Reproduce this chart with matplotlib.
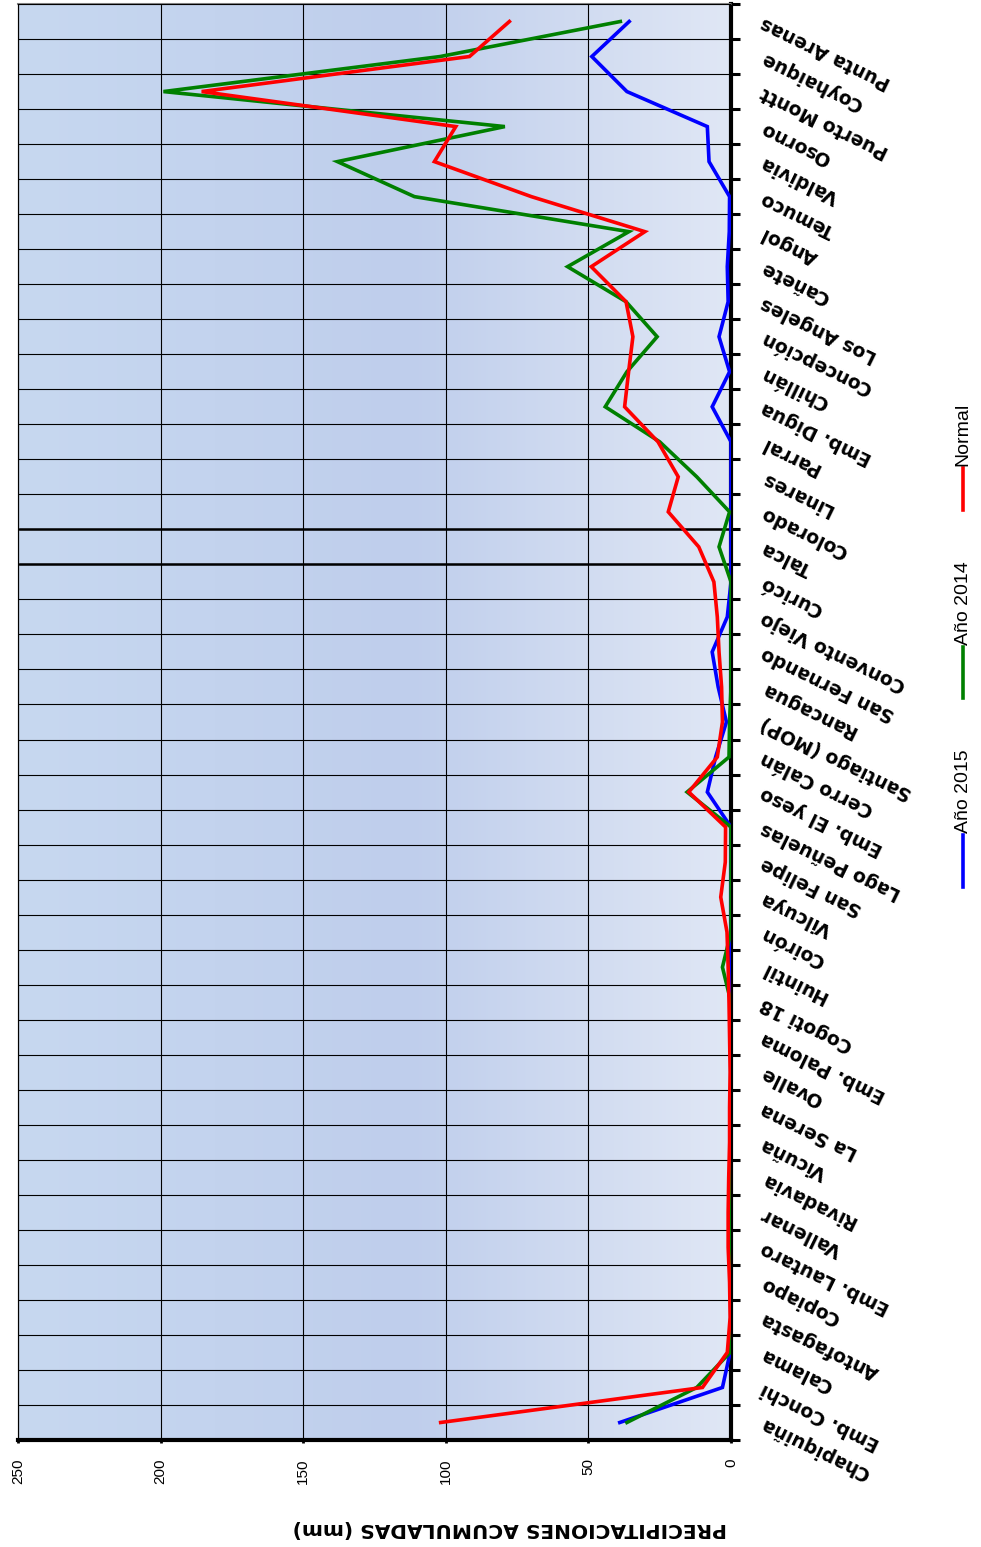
import numpy as np
import matplotlib
matplotlib.use("Agg")
import matplotlib.pyplot as plt
import matplotlib.transforms as mtransforms
from matplotlib.colors import LinearSegmentedColormap
from matplotlib.lines import Line2D

# stations, north to south
estaciones = [
    "Chapiquiña", "Emb. Conchi", "Calama", "Antofagasta", "Copiapo",
    "Emb. Lautaro", "Vallenar", "Rivadavia", "Vicuña", "La Serena",
    "Ovalle", "Emb. Paloma", "Cogoti 18", "Huintil", "Coirón",
    "Vilcuya", "San Felipe", "Lago Peñuelas", "Emb. El yeso", "Cerro Calán",
    "Santiago (MOP)", "Rancagua", "San Fernando", "Convento Viejo", "Curicó",
    "Talca", "Colorado", "Linares", "Parral", "Emb. Digua",
    "Chillán", "Concepción", "Los Angeles", "Cañete", "Angol",
    "Temuco", "Valdivia", "Osorno", "Puerto Montt", "Coyhaique",
    "Punta Arenas",
]

anio_2015 = [39, 3, 0.3, 0, 0, 0, 0, 0, 0, 0,
             0, 0, 0, 0, 0, 0, 0, 0, 8.3, 5.4,
             1.6, 4.5, 6.6, 1.3, 0, 0, 0, 0, 0, 6.6,
             0.5, 4.2, 1.0, 1.3, 0.6, 0.5, 7.7, 8.3, 36.5, 48.8,
             35.7]

anio_2014 = [36.5, 12, 0.3, 0, 0, 0, 0, 0, 0, 0,
             0, 0, 0, 3, 0, 0, 0, 0, 15.4, 0.7,
             0.5, 0, 0, 0, 0, 4.2, 0.5, 12, 25, 44.1,
             36.5, 25.9, 36.8, 57.3, 35.8, 111, 138, 79.3, 199, 102,
             38.8]

normal = [101.8, 10, 1.3, 0.3, 0.5, 1.0, 1.0, 0.8, 0.5, 0.5,
          0.3, 0.5, 0.7, 1.0, 1.4, 3.6, 2.0, 1.9, 14.8, 4.8,
          3.0, 3.3, 4.2, 4.8, 6.0, 11.3, 22, 18.5, 25.6, 37.3,
          35.9, 34.4, 36.8, 49, 30.2, 70, 104, 96.5, 185.6, 91.7,
          77.7]

series = [("Año 2015", anio_2015, "#0000ff"),
          ("Año 2014", anio_2014, "#008000"),
          ("Normal", normal, "#ff0000")]

W, H = 981, 1547
fig = plt.figure(figsize=(W / 100, H / 100), dpi=100)
ax = fig.add_axes([18 / W, 1 - 1440 / H, (731 - 18) / W, (1440 - 4) / H])

n = len(estaciones)
pos = np.arange(n)

# background gradient
cmap = LinearSegmentedColormap.from_list(
    "fondo", [(0, "#c7d8f0"), (0.55, "#bfceec"), (1, "#e0e7f5")])
grad = np.linspace(0, 1, 256).reshape(1, -1)
ax.imshow(grad, extent=(250, 0, -0.5, n - 0.5), aspect="auto", cmap=cmap, zorder=0)

for nombre, vals, color in series:
    ax.plot(vals, pos, color=color, lw=2.6, zorder=3, solid_joinstyle="miter")

ax.set_xlim(250, 0)
ax.set_ylim(-0.5, n - 0.5)

# value axis (bottom)
ax.set_xticks(np.arange(0, 251, 50))
ax.set_xticklabels([str(v) for v in range(0, 251, 50)], rotation=90,
                   family="Liberation Sans", fontsize=11)
ax.tick_params(axis="x", direction="out", length=2, width=2, pad=11)

# category axis (right), labels drawn as rotated text
ax.yaxis.tick_right()
ax.set_yticks(np.arange(-0.5, n, 1.0))
ax.set_yticklabels([])
ax.tick_params(axis="y", which="major", direction="out", length=6.5, width=2.2,
               right=True, left=False)

trans = mtransforms.blended_transform_factory(ax.transAxes, ax.transData)
trans = trans + mtransforms.ScaledTranslation(31 / 100, 0, fig.dpi_scale_trans)
for i, nombre in enumerate(estaciones):
    ax.text(1.0, i, nombre, transform=trans, rotation=154, rotation_mode="anchor",
            ha="right", va="center", fontsize=13.5, fontweight="bold",
            family="DejaVu Sans", clip_on=False)

ax.grid(True, which="major", color="black", lw=0.8, zorder=1)
ax.set_axisbelow(False)
for gl in ax.get_xgridlines() + ax.get_ygridlines():
    gl.set_zorder(1)
for yb in (24.5, 25.5):
    ax.axhline(yb, color="black", lw=1.8, zorder=1)

ax.spines["right"].set_linewidth(3)
ax.spines["bottom"].set_linewidth(3)
ax.spines["top"].set_color("#808080")
ax.spines["top"].set_linewidth(1.5)
ax.spines["left"].set_color("#808080")
ax.spines["left"].set_linewidth(1)

fig.text(510 / W, 1 - 1529 / H, "PRECIPITACIONES ACUMULADAS (mm)", rotation=180,
         ha="center", va="center", fontweight="bold", fontsize=14.5,
         family="DejaVu Sans")

# legend, drawn vertically
leg = [("Año 2015", "#0000ff", 835, 887),
       ("Año 2014", "#008000", 647, 698),
       ("Normal", "#ff0000", 468, 510)]
for txt, color, y0, y1 in leg:
    fig.add_artist(Line2D([963 / W, 963 / W], [1 - y0 / H, 1 - y1 / H],
                          color=color, lw=2.6, transform=fig.transFigure))
    fig.text(963 / W, 1 - (y0 - 2) / H, txt, rotation=90, ha="center", va="bottom",
             fontsize=14, family="Liberation Sans")

fig.savefig("out.png", dpi=100)
